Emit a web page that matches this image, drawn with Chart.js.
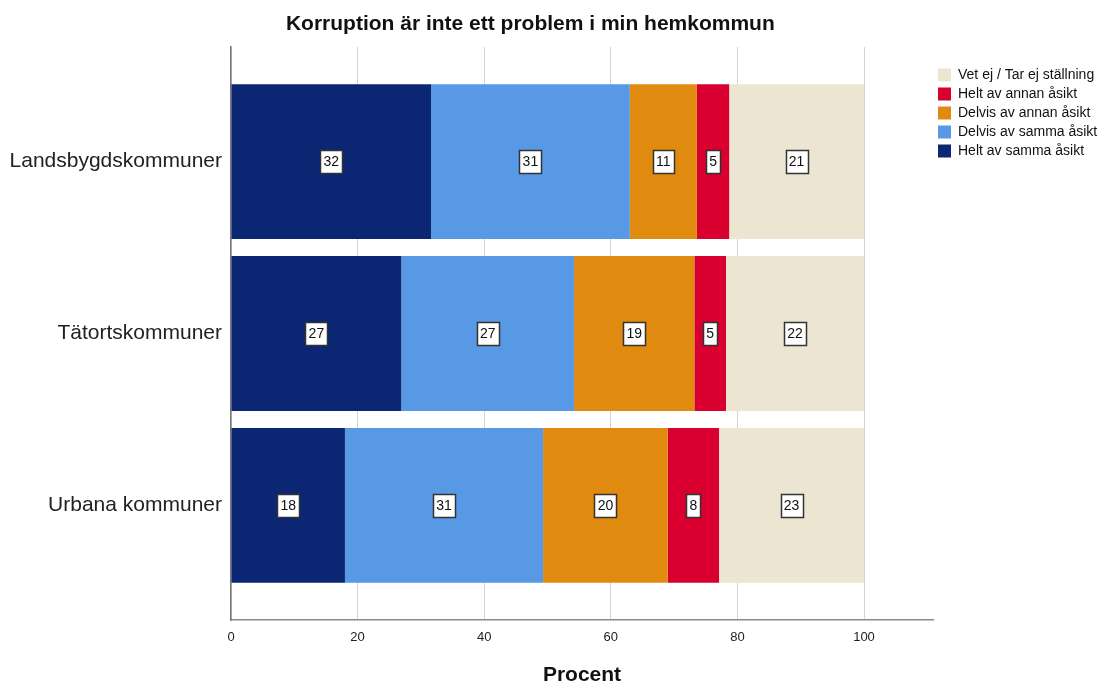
<!DOCTYPE html>
<html>
<head>
<meta charset="utf-8">
<script src="https://cdn.jsdelivr.net/npm/chart.js@4.4.1/dist/chart.umd.min.js"></script>
<style>
  html, body { margin: 0; padding: 0; background: #fff; }
  #wrap { width: 1098px; height: 684px; position: relative; }
</style>
</head>
<body>
<div id="wrap"><canvas id="chart"></canvas></div>
<script>
var categories = ["Landsbygdskommuner", "Tätortskommuner", "Urbana kommuner"];
var seriesNames = ["Helt av samma åsikt", "Delvis av samma åsikt", "Delvis av annan åsikt", "Helt av annan åsikt", "Vet ej / Tar ej ställning"];
var heltSamma = [31.6, 26.9, 18.0];
var delvisSamma = [31.4, 27.3, 31.3];
var delvisAnnan = [10.6, 19.0, 19.7];
var heltAnnan = [5.1, 5.0, 8.1];
var vetEj = [21.3, 21.8, 22.9];
var xTicks = [0, 20, 40, 60, 80, 100];
var seriesColors = ["#0b2672", "#5799e5", "#e08a10", "#d9002f", "#ebe5d1"];

var FONT = "'Liberation Sans', Arial, sans-serif";

// white boxed value labels in the middle of each segment
var valueLabels = {
  id: "valueLabels",
  afterDatasetsDraw: function (chart) {
    var ctx = chart.ctx;
    ctx.save();
    ctx.font = "14px " + FONT;
    ctx.textAlign = "center";
    ctx.textBaseline = "middle";
    chart.data.datasets.forEach(function (ds, di) {
      var meta = chart.getDatasetMeta(di);
      meta.data.forEach(function (el, i) {
        var txt = String(Math.round(ds.data[i]));
        var cx = (el.x + el.base) / 2;
        var cy = el.y;
        var w = Math.round(ctx.measureText(txt).width + 6);
        var h = 23;
        var x0 = Math.round(cx - w / 2) + 0.5;
        var y0 = Math.round(cy - h / 2) + 0.5;
        ctx.fillStyle = "#ffffff";
        ctx.fillRect(x0, y0, w, h);
        ctx.strokeStyle = "#333333";
        ctx.lineWidth = 1.5;
        ctx.strokeRect(x0, y0, w, h);
        ctx.fillStyle = "#111111";
        ctx.fillText(txt, cx, cy + 1);
      });
    });
    ctx.restore();
  }
};

var titlePlugin = {
  id: "titleText",
  afterDraw: function (chart) {
    var ctx = chart.ctx;
    ctx.save();
    ctx.font = "bold 21px " + FONT;
    ctx.fillStyle = "#111111";
    ctx.textAlign = "center";
    ctx.textBaseline = "middle";
    ctx.fillText("Korruption är inte ett problem i min hemkommun", chart.width * 0.483, 24);
    ctx.restore();
  }
};

var datasets = [heltSamma, delvisSamma, delvisAnnan, heltAnnan, vetEj].map(function (d, i) {
  return {
    label: seriesNames[i],
    data: d,
    backgroundColor: seriesColors[i],
    borderWidth: 0,
    barPercentage: 0.9,
    categoryPercentage: 1.0
  };
});

new Chart(document.getElementById("chart"), {
  type: "bar",
  data: { labels: categories, datasets: datasets },
  plugins: [valueLabels, titlePlugin],
  options: {
    indexAxis: "y",
    responsive: true,
    maintainAspectRatio: false,
    animation: false,
    layout: { padding: { top: 47, right: 0, bottom: 0, left: 0 } },
    plugins: {
      title: { display: false },
      tooltip: { enabled: false },
      legend: {
        position: "right",
        align: "start",
        reverse: true,
        maxWidth: 165,
        title: { display: true, text: "", font: { size: 10 }, padding: { top: 0, bottom: 4 } },
        labels: {
          boxWidth: 13,
          boxHeight: 13,
          padding: 5,
          color: "#111",
          font: { family: FONT, size: 14 }
        }
      }
    },
    scales: {
      x: {
        stacked: true,
        min: 0,
        max: 110.9,
        afterBuildTicks: function (s) {
          s.ticks = xTicks.map(function (v) { return { value: v }; });
        },
        afterFit: function (s) { s.height = 64; },
        grid: { color: "#d4d4d4", lineWidth: 1, drawTicks: false },
        border: { color: "#8a8a8a", width: 1.5 },
        ticks: { color: "#222", padding: 10, font: { family: FONT, size: 13 } },
        title: {
          display: true,
          text: "Procent",
          color: "#111",
          font: { family: FONT, size: 21, weight: "bold", lineHeight: 0.8 },
          padding: { top: 14, bottom: 0 }
        }
      },
      y: {
        stacked: true,
        afterBuildTicks: function (s) {
          s._startValue = -0.666;
          s._valueRange = 3.332;
        },
        afterFit: function (s) { s.width = 231; },
        grid: { display: false, drawTicks: false },
        border: { color: "#777", width: 1.5 },
        ticks: { color: "#222", padding: 9, font: { family: FONT, size: 21 } }
      }
    }
  }
});
</script>
</body>
</html>
